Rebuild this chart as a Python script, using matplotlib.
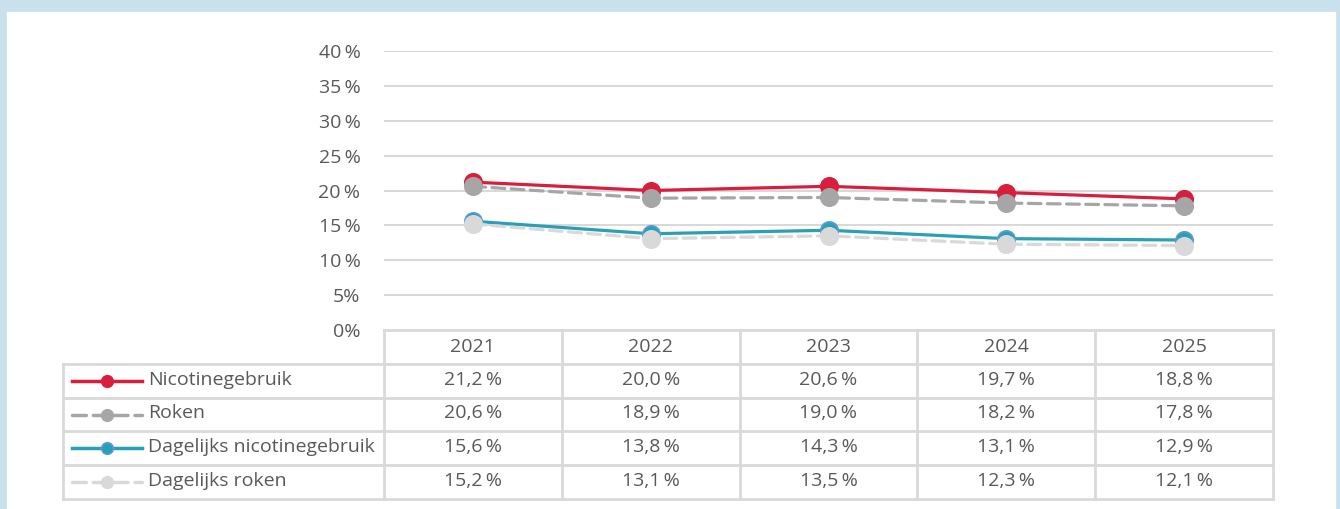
import numpy as np
import matplotlib.pyplot as plt
from matplotlib.patches import Rectangle

plt.rcParams['font.family'] = ['Open Sans', 'DejaVu Sans']

# data
years = ['2021', '2022', '2023', '2024', '2025']
series_names = ['Nicotinegebruik', 'Roken', 'Dagelijks nicotinegebruik', 'Dagelijks roken']
nicotine = [21.2, 20.0, 20.6, 19.7, 18.8]
roken = [20.6, 18.9, 19.0, 18.2, 17.8]
dag_nicotine = [15.6, 13.8, 14.3, 13.1, 12.9]
dag_roken = [15.2, 13.1, 13.5, 12.3, 12.1]
yticks = [0, 5, 10, 15, 20, 25, 30, 35, 40]
ytick_labels = ['0%', '5%', '10\u2009%', '15\u2009%', '20\u2009%', '25\u2009%', '30\u2009%', '35\u2009%', '40\u2009%']

values = [nicotine, roken, dag_nicotine, dag_roken]
styles = [
    dict(color='#d91e3c', ls='-', mfc='#d91e3c', mec='#d91e3c'),
    dict(color='#a6a6a6', ls=(0, (4, 2)), mfc='#a6a6a6', mec='#a6a6a6'),
    dict(color='#2aa0b7', ls='-', mfc='#2aa0b7', mec='#5b9bd5'),
    dict(color='#d9d9d9', ls=(0, (4, 2)), mfc='#d9d9d9', mec='#d9d9d9'),
]
text_col = '#595959'
grid_col = '#d9d9d9'
fs = 14

W, H = 1340, 509
fig = plt.figure(figsize=(W / 100, H / 100), dpi=100)
fig.patch.set_facecolor('#c8e1ed')
fig.patches.append(Rectangle((7 / W, 0), (1335 - 7) / W, (H - 12) / H,
                             transform=fig.transFigure, color='white', zorder=-10))

# plot area (pixel bounds)
pl, pr, pt, pb = 384, 1273, 51, 330
ax = fig.add_axes([pl / W, (H - pb) / H, (pr - pl) / W, (pb - pt) / H])
ax.set_facecolor('none')
x = np.arange(len(years))
for vals, st in zip(values, styles):
    ax.plot(x, vals, color=st['color'], ls=st['ls'], lw=2.3, marker='o', ms=12.5,
            mfc=st['mfc'], mec=st['mec'], mew=1.2, dash_capstyle='round', zorder=3)
ax.set_xlim(-0.5, len(years) - 0.5)
ax.set_ylim(0, 40)
ax.set_yticks(yticks)
ax.set_yticklabels(ytick_labels)
ax.set_xticks([])
for s in ax.spines.values():
    s.set_visible(False)
ax.tick_params(axis='y', length=0, pad=17, labelsize=fs, labelcolor=text_col)
for t in yticks[1:]:
    ax.axhline(t, color=grid_col, lw=1.5, zorder=1)

# data table below
tl, tb = 63, 499
unit = (pr - pl) / len(years)
x0 = -0.5 - (pl - tl) / unit
tax = fig.add_axes([tl / W, (H - tb) / H, (pr - tl) / W, (tb - pb) / H])
tax.set_xlim(x0, len(years) - 0.5)
tax.set_ylim(len(values) + 1, 0)
tax.axis('off')
lk = dict(color=grid_col, lw=2, clip_on=False)
tax.plot([-0.5, len(years) - 0.5], [0, 0], **lk)
for r in range(1, len(values) + 2):
    tax.plot([x0, len(years) - 0.5], [r, r], **lk)
for c in range(len(years) + 1):
    tax.plot([c - 0.5, c - 0.5], [0, len(values) + 1], **lk)
tax.plot([x0, x0], [1, len(values) + 1], **lk)

for i, y in enumerate(years):
    tax.text(i, 0.5, y, ha='center', va='center', fontsize=fs, color=text_col)
for r, (name, vals, st) in enumerate(zip(series_names, values, styles), start=1):
    xs = [x0 + 9 / unit, x0 + 79 / unit]
    tax.plot(xs, [r + 0.5] * 2, color=st['color'], ls=st['ls'], lw=2.5,
             dash_capstyle='round', clip_on=False)
    tax.plot([np.mean(xs)], [r + 0.5], marker='o', ms=8.5, mfc=st['mfc'],
             mec=st['mec'], mew=1.0, clip_on=False)
    tax.text(x0 + 85 / unit, r + 0.47, name, ha='left', va='center',
             fontsize=fs, color=text_col)
    for i, v in enumerate(vals):
        tax.text(i, r + 0.47, f'{v:.1f}'.replace('.', ',') + '\u2009%',
                 ha='center', va='center', fontsize=fs, color=text_col)

fig.savefig('out.png', dpi=100, facecolor=fig.get_facecolor())
